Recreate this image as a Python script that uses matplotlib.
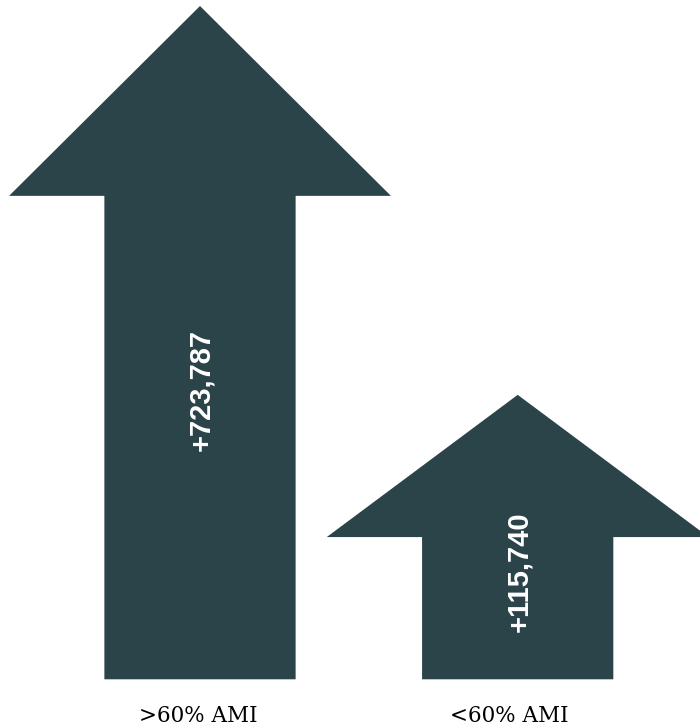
import matplotlib
matplotlib.use('Agg')
import matplotlib.pyplot as plt
from matplotlib.patches import Polygon
import numpy as np

plt.rcParams['font.sans-serif'] = ['Liberation Sans', 'Arial', 'Roboto', 'DejaVu Sans']

# 新增住房数量（按收入分组）
categories = ['>60% AMI', '<60% AMI']
values = [723787, 115740]
value_labels = ['+723,787', '+115,740']

color = '#2b444a'
power = 0.47          # 箭头高度按数值的幂次缩放
shaft_half = 0.301    # 箭杆半宽（x 轴单位）
head_half = 0.601     # 箭头半宽
head_max = 0.282      # 箭头最大高度（占最高箭头的比例）
text_frac = [0.43, 0.38]
cat_dx = [-0.007, -0.027]

heights = np.array(values, dtype=float) ** power
h_max = heights.max()

fig = plt.figure(figsize=(7, 7.28), dpi=100)
ax = fig.add_axes([0, 0, 1, 1])
ax.set_xlim(-0.6295, 1.5738)
ax.set_ylim(-48.7 / 673.3 * h_max, 679.3 / 673.3 * h_max)
ax.axis('off')

for i, h in enumerate(heights):
    head = min(head_max * h_max, 0.5 * h)
    base = h - head
    pts = [(i - shaft_half, 0), (i + shaft_half, 0), (i + shaft_half, base),
           (i + head_half, base), (i, h), (i - head_half, base),
           (i - shaft_half, base)]
    ax.add_patch(Polygon(pts, closed=True, facecolor=color, edgecolor='none'))
    ax.text(i + 0.005, h * text_frac[i], value_labels[i], rotation=90,
            ha='center', va='center', color='white', fontsize=21,
            fontweight='bold', family='sans-serif')
    ax.text(i + cat_dx[i], -36.5 / 673.3 * h_max, categories[i],
            ha='center', va='center', color='black', fontsize=15.5,
            family='DejaVu Serif')

plt.savefig('out.png', dpi=100)
